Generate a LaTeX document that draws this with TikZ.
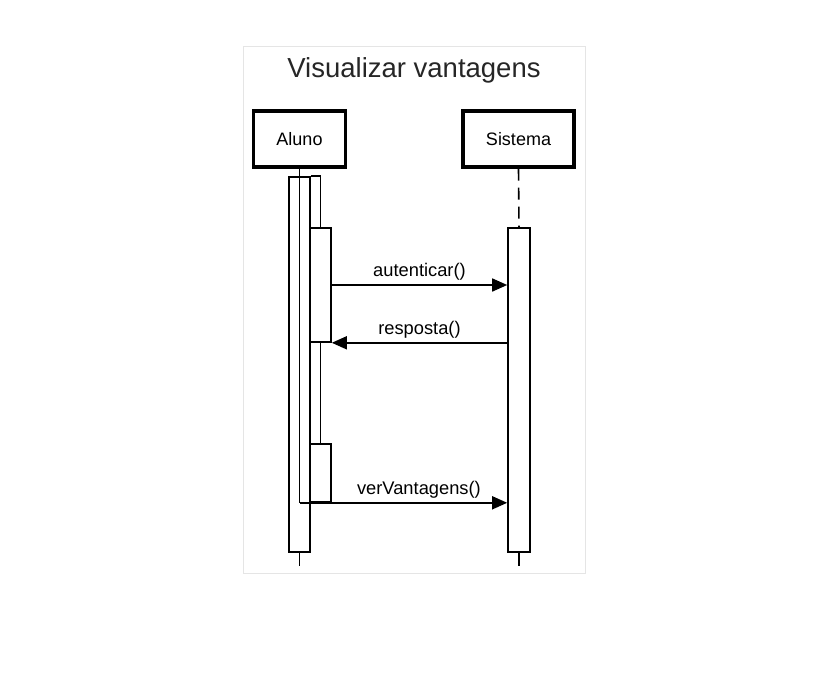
\documentclass[tikz,border=0pt]{standalone}
\usepackage{fontspec}
\setmainfont{Liberation Sans}
\usetikzlibrary{arrows.meta}
\begin{document}
\begin{tikzpicture}[x=1pt,y=-1pt,
  actor/.style={draw, line width=3.4pt, minimum height=56pt, inner sep=0pt, font=\fontsize{18}{21}\selectfont},
  actbar/.style={draw, line width=1.6pt, minimum width=21pt, inner sep=0pt},
  life/.style={line width=1.6pt},
  msg/.style={line width=1.6pt, -{Triangle[length=15pt,width=13pt]}},
  lbl/.style={font=\fontsize{18.3}{21}\selectfont, inner sep=0pt}]
\useasboundingbox (0,0) rectangle (840,672);
% frame
\draw[black!10, line width=1pt] (243,46) rectangle (585,573);
\node[font=\fontsize{27.5}{32}\selectfont, text=black!85] (title) at (414,70.5) {Visualizar vantagens};
% actors
\node[actor, minimum width=92pt] (aluno) at (299.5,139) {Aluno};
\node[actor, minimum width=111pt] (sistema) at (518.5,139) {Sistema};
% activation bars
\node[actbar, minimum height=375pt] (aout) at (299.5,364.5) {};
\node[actbar, minimum height=114pt] (ain1) at (320.5,285) {};
\node[actbar, minimum height=58pt] (ain2) at (320.5,473) {};
\node[actbar, minimum width=22pt, minimum height=324pt] (sact) at (519,390) {};
% lifelines
\coordinate (vstart) at (aluno.south |- ain2.south);
\draw[life] (aluno.south) -- (vstart);
\draw[life] (aout.south) -- ++(0,13);
\draw[life] (aout.north east) -- (ain1.north |- aout.north east) -- (ain1.north);
\draw[life] (ain1.south) -- (ain2.north);
\draw[life, dash pattern=on 12pt off 7pt] (sistema.south) -- (sact.north);
\draw[life] (sact.south) -- ++(0,13);
% messages
\draw[msg] (ain1.east) -- (ain1.east -| sact.west)
  node[lbl, midway, above=4pt] {autenticar()};
\draw[msg] (sact.west |- ain1.south east) -- (ain1.south east)
  node[lbl, midway, above=4pt] {resposta()};
\draw[msg] (vstart) -- (vstart -| sact.west)
  node[lbl, pos=0.575, above=4pt] {verVantagens()};
\end{tikzpicture}
\end{document}
